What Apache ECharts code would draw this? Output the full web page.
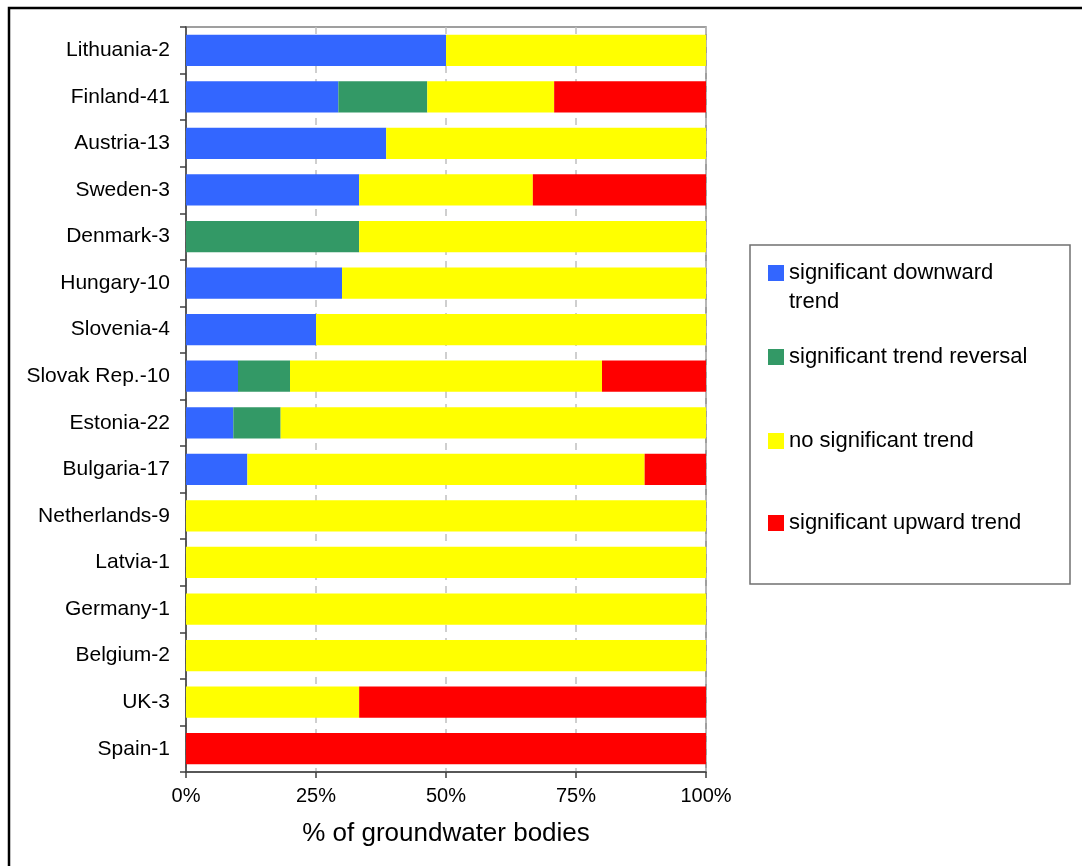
<!DOCTYPE html>
<html>
<head>
<meta charset="utf-8">
<script src="https://cdn.jsdelivr.net/npm/echarts/dist/echarts.min.js"></script>
<style>
  html, body { margin: 0; padding: 0; background: #fff; }
  #chart { width: 1082px; height: 866px; }
</style>
</head>
<body>
<div id="chart"></div>
<script>
  // categories top to bottom
  var countries = ['Lithuania-2', 'Finland-41', 'Austria-13', 'Sweden-3', 'Denmark-3', 'Hungary-10',
    'Slovenia-4', 'Slovak Rep.-10', 'Estonia-22', 'Bulgaria-17', 'Netherlands-9', 'Latvia-1',
    'Germany-1', 'Belgium-2', 'UK-3', 'Spain-1']

  // % of groundwater bodies per trend class
  var downward = [50, 29.3, 38.5, 33.3, 0, 30, 25, 10, 9.1, 11.8, 0, 0, 0, 0, 0, 0]
  var reversal = [0, 17.1, 0, 0, 33.3, 0, 0, 10, 9.1, 0, 0, 0, 0, 0, 0, 0]
  var noTrend = [50, 24.4, 61.5, 33.4, 66.7, 70, 75, 60, 81.8, 76.4, 100, 100, 100, 100, 33.3, 0]
  var upward = [0, 29.2, 0, 33.3, 0, 0, 0, 20, 0, 11.8, 0, 0, 0, 0, 66.7, 100]

  var seriesNames = ['significant downward trend', 'significant trend reversal', 'no significant trend', 'significant upward trend']
  var seriesColors = ['#3366ff', '#339966', '#ffff00', '#ff0000']
  var seriesData = [downward, reversal, noTrend, upward]

  var xTicks = [0, 25, 50, 75, 100]

  var font = "'Liberation Sans', Arial, sans-serif"

  var myChart = echarts.init(document.getElementById('chart'))

  // one legend per item so the spacing can match the original box
  // first item wraps onto two lines, icon stays level with the first line
  var legendTops = [229.5, 344.5, 428.5, 510.5]
  var legends = seriesNames.map(function (n, i) {
    var two = i === 0
    return {
      data: [n],
      orient: 'vertical',
      left: 768,
      top: legendTops[i],
      padding: 0,
      icon: 'rect',
      itemWidth: 16,
      itemHeight: 16,
      selectedMode: false,
      formatter: function (name) {
        return two ? '\nsignificant downward\ntrend' : name
      },
      textStyle: {
        fontFamily: font,
        fontSize: 22,
        color: '#000',
        lineHeight: two ? 29 : 25
      }
    }
  })

  var option = {
    animation: false,
    backgroundColor: '#fff',
    grid: {
      left: 186,
      right: 376,
      top: 27,
      bottom: 94,
      show: true,
      borderColor: '#808080',
      borderWidth: 1.5,
      containLabel: false
    },
    legend: legends,
    xAxis: {
      type: 'value',
      min: xTicks[0],
      max: xTicks[xTicks.length - 1],
      interval: 25,
      name: '% of groundwater bodies',
      nameLocation: 'middle',
      nameGap: 49,
      nameTextStyle: { fontFamily: font, fontSize: 26, color: '#000' },
      axisLine: { show: true, lineStyle: { color: '#404040', width: 1.5 } },
      axisTick: { show: true, length: 6, lineStyle: { color: '#404040', width: 1.5 } },
      axisLabel: {
        fontFamily: font, fontSize: 20, color: '#000', margin: 14,
        formatter: '{value}%'
      },
      splitLine: { show: true, lineStyle: { color: '#c0c0c0', type: [7, 6], width: 1.5 } }
    },
    yAxis: {
      type: 'category',
      inverse: true,
      data: countries,
      axisLine: { show: true, lineStyle: { color: '#404040', width: 1.5 } },
      axisTick: { show: true, length: 6, lineStyle: { color: '#404040', width: 1.5 } },
      axisLabel: { fontFamily: font, fontSize: 21, color: '#000', margin: 16 }
    },
    series: seriesNames.map(function (n, i) {
      return {
        name: n,
        type: 'bar',
        stack: 'total',
        barCategoryGap: '33%',
        itemStyle: { color: seriesColors[i] },
        data: seriesData[i]
      }
    }),
    graphic: [
      {
        type: 'rect',
        shape: { x: 9, y: 8, width: 1200, height: 1000 },
        style: { fill: 'none', stroke: '#000', lineWidth: 2.5 },
        silent: true
      },
      {
        type: 'rect',
        shape: { x: 750, y: 245, width: 320, height: 339 },
        style: { fill: 'none', stroke: '#707070', lineWidth: 1.5 },
        silent: true
      }
    ]
  }

  myChart.setOption(option)
</script>
</body>
</html>
